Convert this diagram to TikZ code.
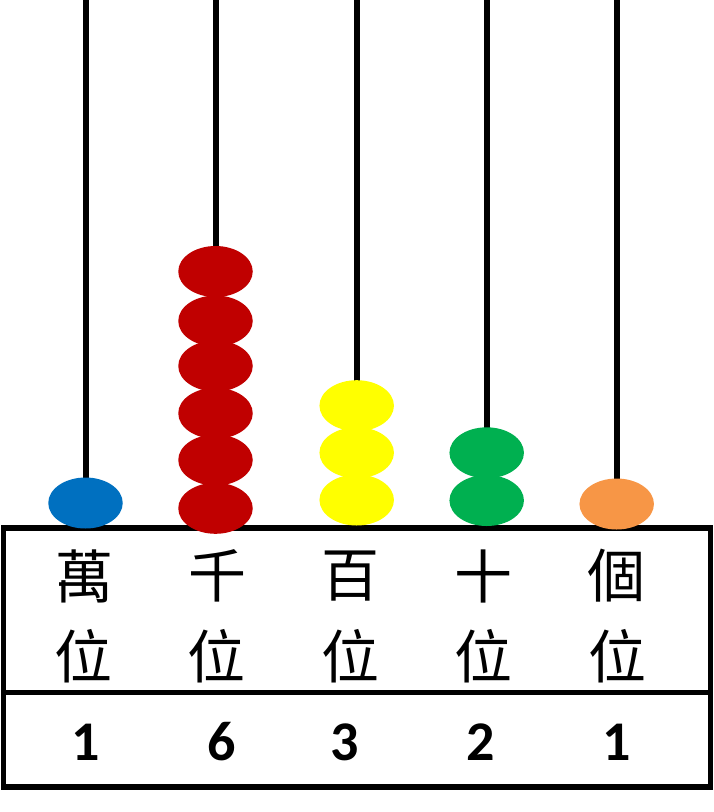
\documentclass[tikz,border=0pt]{standalone}
\usepackage{fontspec}
\usetikzlibrary{shapes.geometric}
\newfontfamily\cjk{Noto Sans CJK TC}
\newfontfamily\numfont{Carlito}
\definecolor{beadblue}{HTML}{0070C0}
\definecolor{beadred}{HTML}{C00000}
\definecolor{beadyellow}{HTML}{FFFF00}
\definecolor{beadgreen}{HTML}{00B050}
\definecolor{beadorange}{HTML}{F79646}
\begin{document}
\begin{tikzpicture}[x=1pt,y=-1pt,
  rod/.style={line width=6pt,black},
  frame/.style={line width=5.5pt,black},
  bead/.style={ellipse,minimum width=74.5pt,minimum height=51pt,inner sep=0pt,draw=none},
  cjklabel/.style={font=\cjk\fontsize{58}{58}\selectfont,inner sep=0pt},
  numlabel/.style={font=\numfont\bfseries\fontsize{56}{56}\selectfont,inner sep=0pt}]
\useasboundingbox (0,0) rectangle (714,812);
% rods
\coordinate (r1t) at (85.5,0);   \coordinate (r1b) at (85.5,500);
\coordinate (r2t) at (215.5,0);  \coordinate (r2b) at (215.5,500);
\coordinate (r3t) at (356.7,0);  \coordinate (r3b) at (356.7,500);
\coordinate (r4t) at (487,0);    \coordinate (r4b) at (487,500);
\coordinate (r5t) at (616.7,0);  \coordinate (r5b) at (616.7,500);
\draw[rod] (r1t) -- (r1b);
\draw[rod] (r2t) -- (r2b);
\draw[rod] (r3t) -- (r3b);
\draw[rod] (r4t) -- (r4b);
\draw[rod] (r5t) -- (r5b);
% frame
\coordinate (bl) at (3.5,528);
\coordinate (br) at (710.5,787);
\coordinate (dl) at (3.5,692.5);
\coordinate (dr) at (710.5,692.5);
\draw[frame] (bl) rectangle (br);
\draw[frame] (dl) -- (dr);
% beads
\node[bead,fill=beadblue] (b1a) at (85.5,503) {};
\node[bead,fill=beadred] (b2a) at (215.5,508.3) {};
\node[bead,fill=beadred] (b2b) at (215.5,460) {};
\node[bead,fill=beadred] (b2c) at (215.5,413.3) {};
\node[bead,fill=beadred] (b2d) at (215.5,366) {};
\node[bead,fill=beadred] (b2e) at (215.5,321) {};
\node[bead,fill=beadred] (b2f) at (215.5,271.5) {};
\node[bead,fill=beadyellow] (b3a) at (356.7,500) {};
\node[bead,fill=beadyellow] (b3b) at (356.7,452.7) {};
\node[bead,fill=beadyellow] (b3c) at (356.7,405.7) {};
\node[bead,fill=beadgreen] (b4a) at (486.7,500.5) {};
\node[bead,fill=beadgreen] (b4b) at (486.7,452.8) {};
\node[bead,fill=beadorange] (b5a) at (616.7,504) {};
% labels
\node[cjklabel] (l1a) at (84,576) {萬};
\node[cjklabel] (l2a) at (217,576) {千};
\node[cjklabel] (l3a) at (350,576) {百};
\node[cjklabel] (l4a) at (483.5,576) {十};
\node[cjklabel] (l5a) at (616,576) {個};
\node[cjklabel] (l1b) at (83,656) {位};
\node[cjklabel] (l2b) at (216,656) {位};
\node[cjklabel] (l3b) at (350,656) {位};
\node[cjklabel] (l4b) at (483,656) {位};
\node[cjklabel] (l5b) at (617,656) {位};
% numbers
\node[numlabel] (n1) at (85.6,742) {1};
\node[numlabel] (n2) at (221.8,742) {6};
\node[numlabel] (n3) at (344.7,742) {3};
\node[numlabel] (n4) at (480.4,742) {2};
\node[numlabel] (n5) at (617,742) {1};
\end{tikzpicture}
\end{document}
